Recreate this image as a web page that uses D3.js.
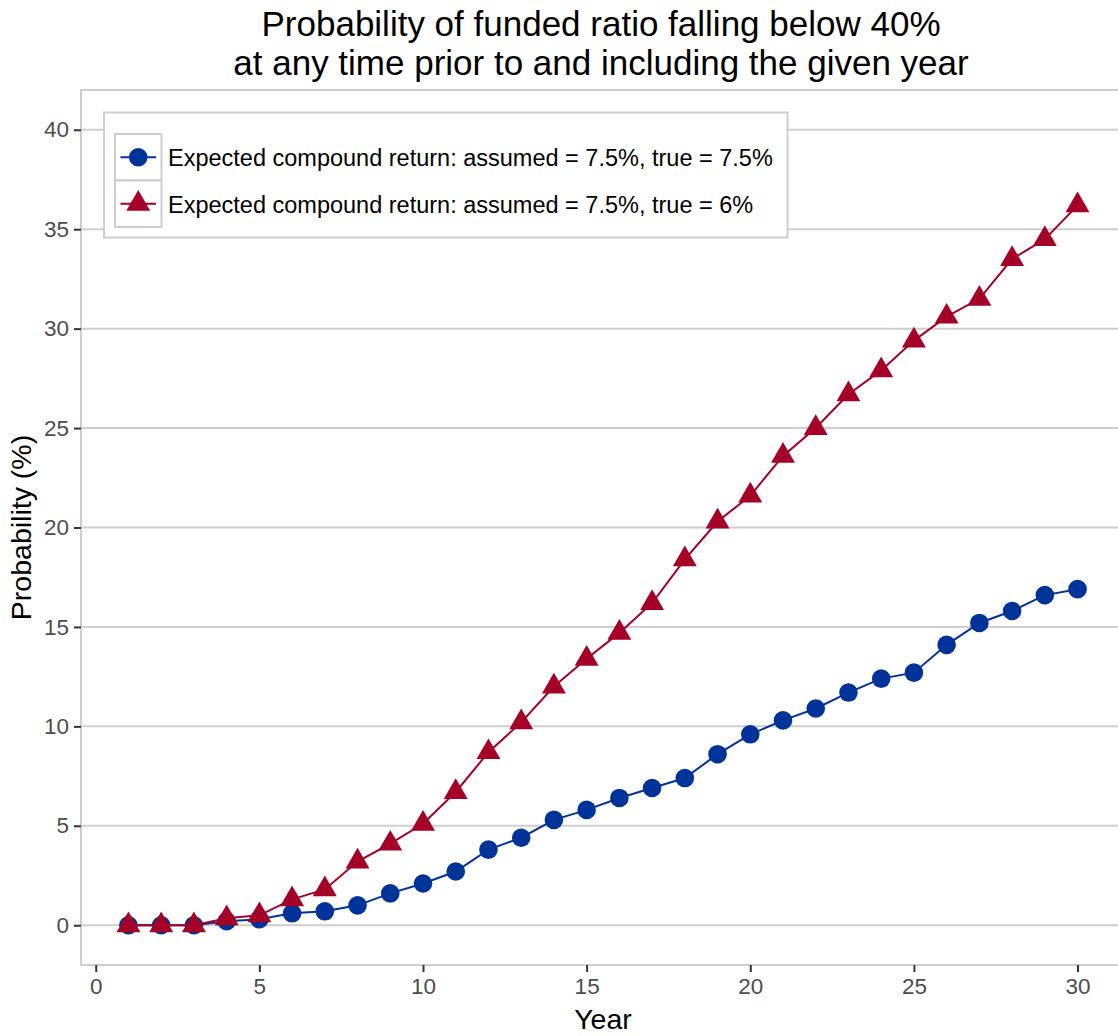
<!DOCTYPE html>
<html>
<head>
<meta charset="utf-8">
<script src="https://cdn.jsdelivr.net/npm/d3@7"></script>
<style>
  body { margin: 0; background: #fff; }
  svg { display: block; font-family: "Liberation Sans", Arial, sans-serif; }
</style>
</head>
<body>
<div id="chart"></div>
<script>
// Data
const years = d3.range(1, 31);
const probTrue75 = [0, 0, 0, 0.2, 0.3, 0.6, 0.7, 1.0, 1.6, 2.1,
  2.7, 3.8, 4.4, 5.3, 5.8, 6.4, 6.9, 7.4, 8.6, 9.6,
  10.3, 10.9, 11.7, 12.4, 12.7, 14.1, 15.2, 15.8, 16.6, 16.9];
const probTrue6 = [0, 0, 0, 0.35, 0.5, 1.3, 1.8, 3.2, 4.1, 5.1,
  6.7, 8.7, 10.2, 12.0, 13.4, 14.7, 16.2, 18.4, 20.3, 21.6,
  23.6, 25.0, 26.7, 27.9, 29.4, 30.6, 31.5, 33.5, 34.5, 36.2];
const seriesNames = [
  "Expected compound return: assumed = 7.5%, true = 7.5%",
  "Expected compound return: assumed = 7.5%, true = 6%"
];
const xTicks = [0, 5, 10, 15, 20, 25, 30];
const yTicks = [0, 5, 10, 15, 20, 25, 30, 35, 40];
const titleLines = [
  "Probability of funded ratio falling below 40%",
  "at any time prior to and including the given year"
];

const [w, h] = [1118, 1036];
const blue = "#003399";
const red = "#a50026";
const gridColor = "#cecece";
const tickText = "#4d4d4d";

const series = [
  { name: seriesNames[0], values: probTrue75, color: blue, shape: d3.symbolCircle, size: 272 },
  { name: seriesNames[1], values: probTrue6, color: red, shape: d3.symbolTriangle, size: 248 }
];

const x = d3.scaleLinear().domain([-0.45, 31.45]).range([81, 1125]);
const y = d3.scaleLinear().domain([-2, 42]).range([965, 90]);

const svg = d3.select("#chart").append("svg")
  .attr("width", w)
  .attr("height", h);

// horizontal grid
svg.append("g")
  .selectAll("line")
  .data(yTicks)
  .enter()
  .append("line")
  .attr("x1", x.range()[0])
  .attr("x2", x.range()[1])
  .attr("y1", d => y(d))
  .attr("y2", d => y(d))
  .attr("stroke", gridColor)
  .attr("stroke-width", 2);

// panel border
svg.append("rect")
  .attr("x", x.range()[0])
  .attr("y", y.range()[1])
  .attr("width", x.range()[1] - x.range()[0])
  .attr("height", y.range()[0] - y.range()[1])
  .attr("fill", "none")
  .attr("stroke", gridColor)
  .attr("stroke-width", 2);

// axes
const xAxis = d3.axisBottom(x).tickValues(xTicks).tickSize(7).tickPadding(6);
const yAxis = d3.axisLeft(y).tickValues(yTicks).tickSize(7).tickPadding(5);

const gx = svg.append("g")
  .attr("transform", `translate(0, ${y.range()[0]})`)
  .call(xAxis);
const gy = svg.append("g")
  .attr("transform", `translate(${x.range()[0]}, 0)`)
  .call(yAxis);

[gx, gy].forEach(g => {
  g.select(".domain").remove();
  g.selectAll(".tick line").attr("stroke", "#333").attr("stroke-width", 2);
  g.selectAll(".tick text")
    .attr("fill", tickText)
    .style("font-size", "22.5px")
    .style("font-family", "Liberation Sans, Arial, sans-serif");
});

// lines and points
const line = d3.line()
  .x((d, i) => x(years[i]))
  .y(d => y(d));

series.forEach(s => {
  svg.append("path")
    .datum(s.values)
    .attr("d", line)
    .attr("fill", "none")
    .attr("stroke", s.color)
    .attr("stroke-width", 2);

  svg.append("g")
    .selectAll("path")
    .data(s.values)
    .enter()
    .append("path")
    .attr("transform", (d, i) => `translate(${x(years[i])}, ${y(d)})`)
    .attr("d", d3.symbol().type(s.shape).size(s.size))
    .attr("fill", s.color);
});

// title
svg.append("text")
  .attr("text-anchor", "middle")
  .attr("fill", "#000")
  .style("font-size", "35px")
  .selectAll("tspan")
  .data(titleLines)
  .enter()
  .append("tspan")
  .attr("x", (x.range()[0] + x.range()[1]) / 2 - 2)
  .attr("y", (d, i) => 36 + i * 38.5)
  .text(d => d);

// axis titles
svg.append("text")
  .attr("x", (x.range()[0] + x.range()[1]) / 2)
  .attr("y", 1029)
  .attr("text-anchor", "middle")
  .style("font-size", "28.5px")
  .text("Year");

svg.append("text")
  .attr("transform", `translate(31, ${(y.range()[0] + y.range()[1]) / 2}) rotate(-90)`)
  .attr("text-anchor", "middle")
  .style("font-size", "28.5px")
  .text("Probability (%)");

// legend
const legend = svg.append("g");
legend.append("rect")
  .attr("x", 104)
  .attr("y", 112.5)
  .attr("width", 683.5)
  .attr("height", 125)
  .attr("fill", "#fff")
  .attr("stroke", gridColor)
  .attr("stroke-width", 2);

const keyW = 46.5, keyH = 46.5;
const rows = legend.selectAll("g.row")
  .data(series)
  .enter()
  .append("g")
  .attr("class", "row")
  .attr("transform", (d, i) => `translate(115, ${134 + i * keyH})`);

rows.append("rect")
  .attr("width", keyW)
  .attr("height", keyH)
  .attr("fill", "#fff")
  .attr("stroke", gridColor)
  .attr("stroke-width", 2);

rows.append("line")
  .attr("x1", 5.5)
  .attr("x2", 41)
  .attr("y1", keyH / 2)
  .attr("y2", keyH / 2)
  .attr("stroke", d => d.color)
  .attr("stroke-width", 2);

rows.append("path")
  .attr("transform", `translate(${keyW / 2}, ${keyH / 2})`)
  .attr("d", d => d3.symbol().type(d.shape).size(d.size)())
  .attr("fill", d => d.color);

rows.append("text")
  .attr("x", keyW + 6.5)
  .attr("y", keyH / 2 + 9)
  .style("font-size", "23.5px")
  .attr("fill", "#000")
  .text(d => d.name);
</script>
</body>
</html>
